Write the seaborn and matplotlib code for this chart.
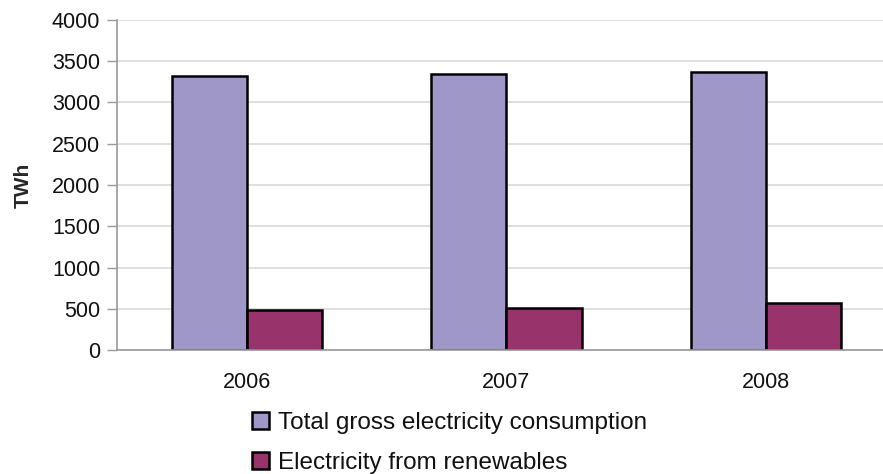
import matplotlib
matplotlib.use("Agg")
import matplotlib.pyplot as plt
import seaborn as sns
import pandas as pd
from matplotlib.patches import Patch

years = ["2006", "2007", "2008"]
series = ["Total gross electricity consumption", "Electricity from renewables"]
total_twh = [3321, 3345, 3373]
renewables_twh = [490, 510, 566]
colors = ["#9e97c8", "#98336b"]

df = pd.DataFrame({
    "year": years * 2,
    "series": [series[0]] * 3 + [series[1]] * 3,
    "value": total_twh + renewables_twh,
})

sns.set_theme(style="white")
plt.rcParams["font.family"] = ["Liberation Sans", "DejaVu Sans"]

fig = plt.figure(figsize=(8.83, 4.74), dpi=100)
ax = fig.add_axes([117 / 883, 1 - 350 / 474, 779 / 883, 330 / 474])

sns.barplot(data=df, x="year", y="value", hue="series", palette=colors,
            width=0.578, edgecolor="black", linewidth=1.8, ax=ax, legend=False,
            saturation=1)

ax.set_ylim(0, 4000)
ax.set_xlim(-0.5, 2.5)
ax.set_yticks(range(0, 4001, 500))
ax.yaxis.grid(True, color="#d9d9d9", linewidth=1.2)
ax.set_axisbelow(True)
ax.set_xlabel("")
ax.set_ylabel("TWh", fontsize=15, fontweight="bold", labelpad=14)
ax.tick_params(axis="y", which="major", length=7, width=1, color="#999999",
               labelsize=15.5, pad=5, left=True, labelcolor="#111111")
ax.tick_params(axis="x", length=0, labelsize=15.5, pad=16, labelcolor="#111111")
for s in ["top", "right"]:
    ax.spines[s].set_visible(False)
for s in ["left", "bottom"]:
    ax.spines[s].set_color("#999999")
    ax.spines[s].set_linewidth(1.2)

handles = [Patch(facecolor=c, edgecolor="black", linewidth=1.8) for c in colors]
fig.legend(handles, series, loc="upper left", bbox_to_anchor=(252 / 883, 1 - 412 / 474),
           frameon=False, fontsize=17.5, handlelength=0.68, handleheight=0.68,
           handletextpad=0.4, labelspacing=0.75, borderpad=0, borderaxespad=0,
           labelcolor="#111111")

fig.savefig("out.png", dpi=100)
